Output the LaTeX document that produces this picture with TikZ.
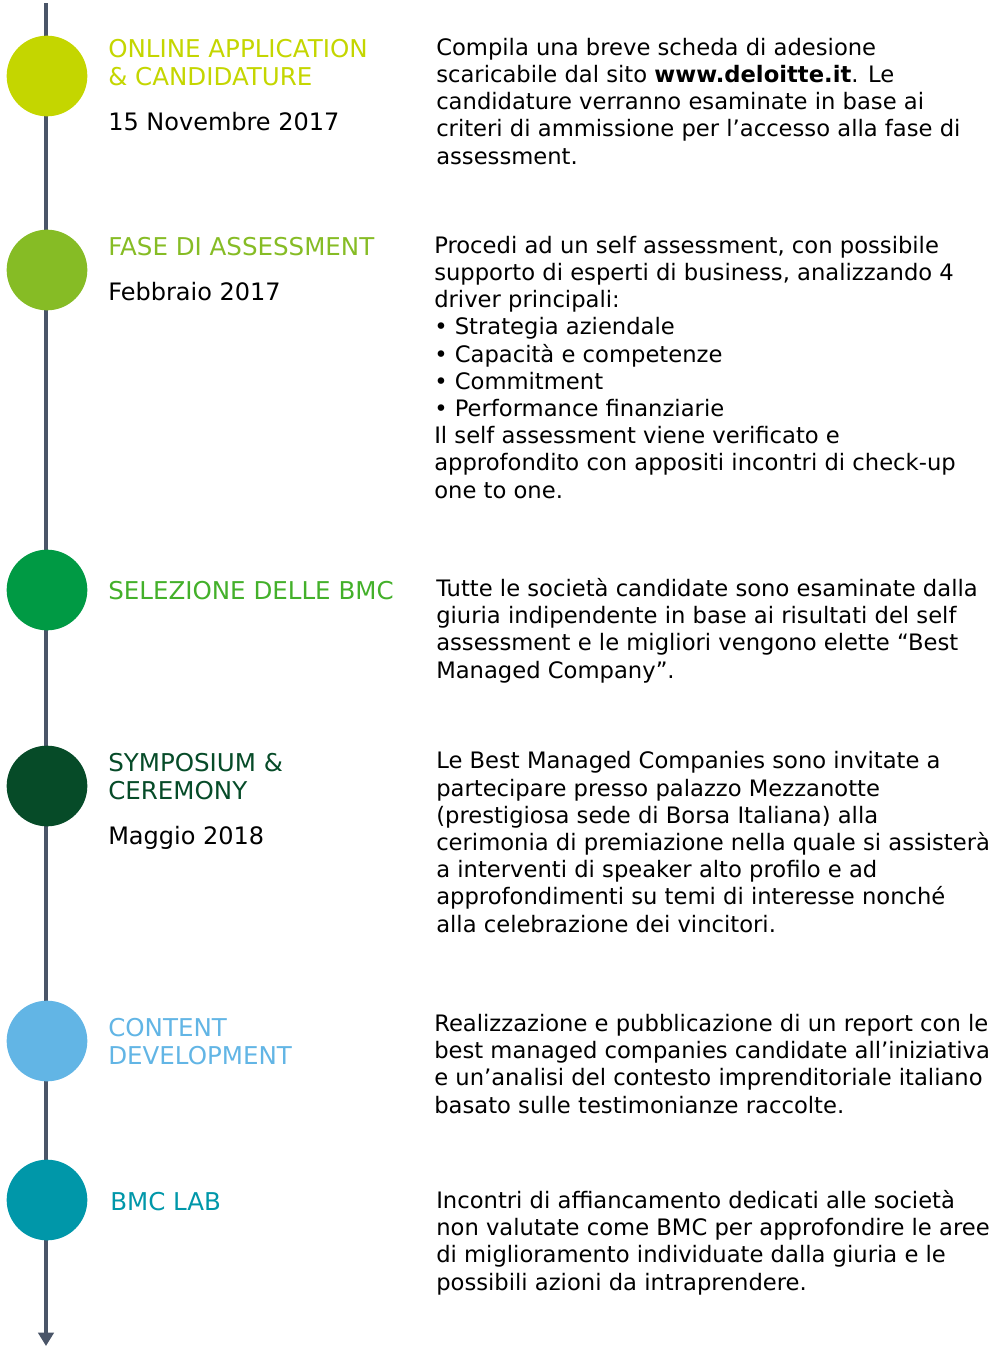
\documentclass[tikz,border=0pt]{standalone}
\usepackage{fontspec}
\setmainfont{DejaVu Sans}
\usepackage{tikz}
\usetikzlibrary{arrows.meta}
\definecolor{lime}{HTML}{C4D600}
\definecolor{leaf}{HTML}{86BC25}
\definecolor{emerald}{HTML}{009A44}
\definecolor{grass}{HTML}{43B02A}
\definecolor{forest}{HTML}{064B28}
\definecolor{sky}{HTML}{62B5E5}
\definecolor{teal}{HTML}{0097A9}
\definecolor{slate}{HTML}{4A5568}
% multi-line nodes sit on the baseline of their last line
\tikzstyle{dot} = [circle, minimum size = 60.5pt, inner sep = 0pt]
\tikzstyle{phase} = [anchor = base west, align = left, inner sep = 0pt, font = \fontsize{18.4}{21}\selectfont]
\tikzstyle{period} = [anchor = base west, inner sep = 0pt, font = \fontsize{18}{21}\selectfont]
\tikzstyle{detail} = [anchor = base west, align = left, inner sep = 0pt, font = \fontsize{17}{20.4}\selectfont]

\begin{document}
\begin{tikzpicture}[x = 0.75pt, y = -0.75pt]
	\useasboundingbox (0,0) rectangle (1004,1346);
	\coordinate (top) at (46,3);
	\coordinate (bottom) at (46,1346);
	\draw [slate, line width = 2.4pt, -{Triangle[width = 11.5pt, length = 10pt]}] (top) -- (bottom);

	\node (c1)[dot, fill = lime] at (47,76) {};
	\node (c2)[dot, fill = leaf] at (47,270) {};
	\node (c3)[dot, fill = emerald] at (47,590) {};
	\node (c4)[dot, fill = forest] at (47,786) {};
	\node (c5)[dot, fill = sky] at (47,1041) {};
	\node (c6)[dot, fill = teal] at (47,1200) {};

	\node (t1)[phase, text = lime] at (108,85) {ONLINE APPLICATION\\ \& CANDIDATURE};
	\node (d1)[period] at (108,130) {15 Novembre 2017};
	\node (t2)[phase, text = leaf] at (108,255) {FASE DI ASSESSMENT};
	\node (d2)[period] at (108,300) {Febbraio 2017};
	\node (t3)[phase, text = grass] at (108,599) {SELEZIONE DELLE BMC};
	\node (t4)[phase, text = forest] at (108,799) {SYMPOSIUM \&\\ CEREMONY};
	\node (d4)[period] at (108,844) {Maggio 2018};
	\node (t5)[phase, text = sky] at (108,1064) {CONTENT\\ DEVELOPMENT};
	\node (t6)[phase, text = teal] at (110,1210) {BMC LAB};

	\node (b1)[detail] at (436,164) {Compila una breve scheda di adesione\\ scaricabile dal sito \textbf{www.deloitte.it}. Le\\ candidature verranno esaminate in base ai\\ criteri di ammissione per l’accesso alla fase di\\ assessment.};
	\node (b2)[detail] at (434,498) {Procedi ad un self assessment, con possibile\\ supporto di esperti di business, analizzando 4\\ driver principali:\\ • Strategia aziendale\\ • Capacità e competenze\\ • Commitment\\ • Performance finanziarie\\ Il self assessment viene verificato e\\ approfondito con appositi incontri di check-up\\ one to one.};
	\node (b3)[detail] at (436,678) {Tutte le società candidate sono esaminate dalla\\ giuria indipendente in base ai risultati del self\\ assessment e le migliori vengono elette “Best\\ Managed Company”.};
	\node (b4)[detail] at (436,932) {Le Best Managed Companies sono invitate a\\ partecipare presso palazzo Mezzanotte\\ (prestigiosa sede di Borsa Italiana) alla\\ cerimonia di premiazione nella quale si assisterà\\ a interventi di speaker alto profilo e ad\\ approfondimenti su temi di interesse nonché\\ alla celebrazione dei vincitori.};
	\node (b5)[detail] at (434,1113) {Realizzazione e pubblicazione di un report con le\\ best managed companies candidate all’iniziativa\\ e un’analisi del contesto imprenditoriale italiano\\ basato sulle testimonianze raccolte.};
	\node (b6)[detail] at (436,1290) {Incontri di affiancamento dedicati alle società\\ non valutate come BMC per approfondire le aree\\ di miglioramento individuate dalla giuria e le\\ possibili azioni da intraprendere.};
\end{tikzpicture}
\end{document}
